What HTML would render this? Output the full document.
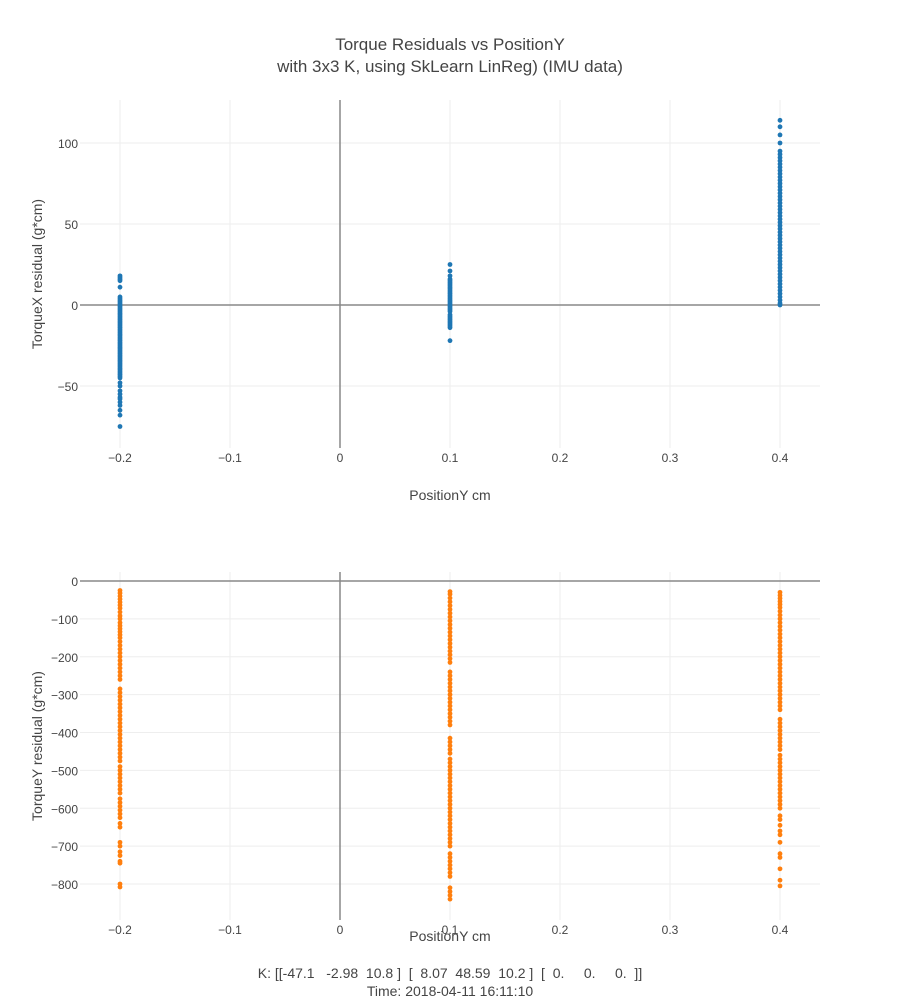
<!DOCTYPE html>
<html><head><meta charset="utf-8"><style>
body{margin:0;background:#fff;font-family:"Liberation Sans",sans-serif}
text{font-family:"Liberation Sans",sans-serif;fill:#444}
</style></head><body>
<svg id="c" width="900" height="1000">
<text x="450" y="50" text-anchor="middle" font-size="17">Torque Residuals vs PositionY</text>
<text x="450" y="72" text-anchor="middle" font-size="17">with 3x3 K, using SkLearn LinReg) (IMU data)</text>
<text x="450" y="978" text-anchor="middle" font-size="14" xml:space="preserve">K: [[-47.1   -2.98  10.8 ]  [  8.07  48.59  10.2 ]  [  0.     0.     0.  ]]</text>
<text x="450" y="996" text-anchor="middle" font-size="14">Time: 2018-04-11 16:11:10</text>
</svg>
<script>
const xTicks=[-0.2,-0.1,0,0.1,0.2,0.3,0.4];
const xTickLabels=["−0.2","−0.1","0","0.1","0.2","0.3","0.4"];
const topYTicks=[-50,0,50,100];
const topYTickLabels=["−50","0","50","100"];
const botYTicks=[0,-100,-200,-300,-400,-500,-600,-700,-800];
const botYTickLabels=["0","−100","−200","−300","−400","−500","−600","−700","−800"];
const positions=[-0.2,0.1,0.4];
const torqueXm02=[18,17,16,15,11,5,4,3,2,1,0,-1,-2,-3,-4,-5,-6,-7,-8,-9,-10,-11,-12,-13,-14,-15,-16,-17,-18,-19,-20,-21,-22,-23,-24,-25,-26,-27,-28,-29,-30,-31,-32,-33,-34,-35,-36,-37,-38,-39,-40,-41,-42,-43,-44,-45,-48,-50,-53,-55,-57,-58,-60,-62,-65,-68,-75];
const torqueX01=[25,21,18,16,15,14,13,12,11,10,9,8,7,6,5,4,3,2,1,0,-1,-2,-3,-4,-6,-7,-8,-9,-10,-11,-12,-13,-14,-22];
const torqueX04=[114,110,105,100,95,93,91,89,87,85,83,81,79,77,75,73,71,69,67,65,63,61,59,57,55,53,51,49,47,45,43,41,39,37,35,33,31,29,27,25,23,21,19,17,15,13,11,9,7,5,3,1,0];
const torqueYm02=[-25,-32,-40,-48,-56,-64,-72,-82,-92,-100,-110,-118,-126,-134,-142,-150,-160,-170,-180,-190,-200,-210,-220,-230,-240,-250,-260,-285,-295,-305,-315,-325,-335,-345,-355,-365,-375,-385,-395,-405,-415,-425,-435,-445,-455,-465,-475,-490,-500,-510,-520,-530,-540,-550,-560,-575,-585,-595,-605,-615,-625,-640,-650,-690,-700,-715,-725,-740,-745,-800,-808];
const torqueYm01=[-28,-35,-45,-55,-65,-75,-85,-95,-105,-115,-125,-135,-145,-155,-165,-175,-185,-195,-205,-215,-240,-250,-260,-270,-280,-290,-300,-310,-320,-330,-340,-350,-360,-370,-380,-415,-425,-435,-445,-455,-470,-480,-490,-500,-510,-520,-530,-540,-550,-560,-570,-580,-590,-600,-610,-620,-630,-640,-650,-660,-670,-680,-690,-700,-720,-730,-740,-750,-760,-770,-780,-810,-820,-830,-840];
const torqueY04=[-30,-38,-46,-54,-62,-70,-80,-90,-100,-110,-120,-130,-140,-150,-160,-170,-180,-190,-200,-210,-220,-230,-240,-250,-260,-270,-280,-290,-300,-310,-320,-330,-340,-365,-375,-385,-395,-405,-415,-425,-435,-445,-460,-470,-480,-490,-500,-510,-520,-530,-540,-550,-560,-570,-580,-590,-600,-620,-630,-645,-660,-670,-690,-720,-730,-760,-790,-805];
const NS="http://www.w3.org/2000/svg";
const svg=document.getElementById('c');
const xs=v=>340+v*1100;
function mk(t,a){const e=document.createElementNS(NS,t);for(const k in a)e.setAttribute(k,a[k]);svg.appendChild(e);return e;}
function panel(top,bottom,y0px,ppu,yTicks,yLabels,series,color,yTitle,xTitleY,tag){
  const ys=v=>y0px-v*ppu;
  xTicks.forEach((t,i)=>{
    if(t!==0){
      const g=mk('line',{x1:xs(t),x2:xs(t),y1:top,y2:bottom,stroke:'#eee','stroke-width':1});
      
      
    }
    const l=mk('text',{x:xs(t),y:bottom+14,'text-anchor':'middle','font-size':12});
    l.textContent=xTickLabels[i];
    
    
  });
  yTicks.forEach((t,i)=>{
    if(t!==0){
      const g=mk('line',{x1:80,x2:820,y1:ys(t),y2:ys(t),stroke:'#eee','stroke-width':1});
      
      
    }
    const l=mk('text',{x:78,y:ys(t)+5,'text-anchor':'end','font-size':12});
    l.textContent=yLabels[i];
    
    
  });
  const z1=mk('line',{x1:xs(0),x2:xs(0),y1:top,y2:bottom,stroke:'#888','stroke-width':1.5});
  
  
  const z2=mk('line',{x1:80,x2:820,y1:ys(0),y2:ys(0),stroke:'#888','stroke-width':1.5});
  
  
  series.forEach((arr,si)=>{arr.forEach(v=>{
    const c=mk('circle',{cx:xs(positions[si]),cy:ys(v),r:2.4,fill:color});
    
    
  });});
  const yt=mk('text',{x:0,y:0,'text-anchor':'middle','font-size':14,transform:`translate(42,${(top+bottom)/2}) rotate(-90)`});
  yt.textContent=yTitle;
  
  
  const xt=mk('text',{x:450,y:xTitleY,'text-anchor':'middle','font-size':14});
  xt.textContent='PositionY cm';
  
  
}
panel(100,448,305,1.62,topYTicks,topYTickLabels,[torqueXm02,torqueX01,torqueX04],'#1f77b4','TorqueX residual (g*cm)',500,'torquex');
panel(572,920,581,0.37875,botYTicks,botYTickLabels,[torqueYm02,torqueYm01,torqueY04],'#ff7f0e','TorqueY residual (g*cm)',941,'torquey');
</script>
</body></html>
